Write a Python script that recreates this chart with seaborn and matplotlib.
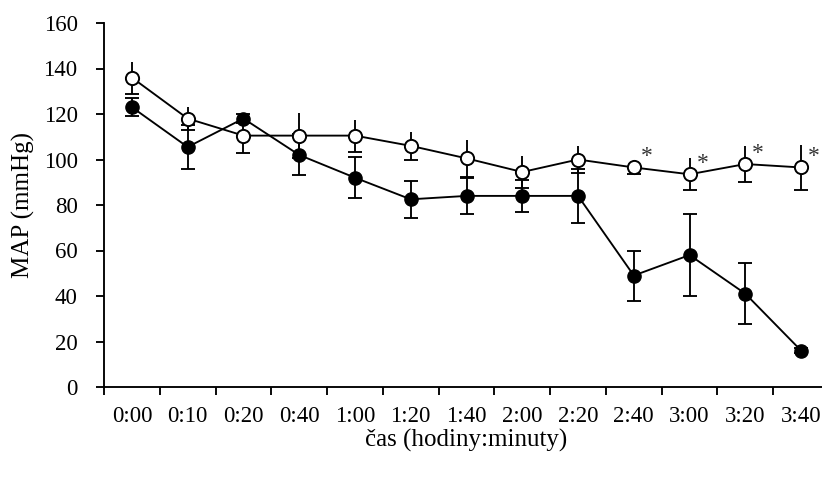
import numpy as np
import pandas as pd
import matplotlib
matplotlib.use("Agg")
import matplotlib.pyplot as plt
import seaborn as sns
from matplotlib.ticker import FixedLocator, NullFormatter

# Time points (hours:minutes)
categories = ["0:00", "0:10", "0:20", "0:40", "1:00", "1:20", "1:40",
              "2:00", "2:20", "2:40", "3:00", "3:20", "3:40"]

# Mean arterial pressure, open-circle group
open_mean = [136, 118, 110.5, 110.5, 110.5, 106, 100.5, 94.5, 100, 96.5, 93.5, 98, 96.5]
open_err = [7, 5, 7.5, 10, 7, 6, 8, 7, 6, 3, 7, 8, 10]

# Mean arterial pressure, filled-circle group
filled_mean = [123, 105.5, 118, 102, 92, 82.5, 84, 84, 84, 49, 58, 41, 16]
filled_err = [4, 9.5, 2, 9, 9, 8, 8, 7, 12, 11, 18, 13.5, 1]

# Significance marks on the open-circle group
star_labels = ["2:40", "3:00", "3:20", "3:40"]

y_ticks = [0, 20, 40, 60, 80, 100, 120, 140, 160]

sns.set_theme(style="ticks")
plt.rcParams["font.family"] = ["Liberation Serif", "DejaVu Serif"]

pos = np.arange(len(categories))
df = pd.DataFrame({"pos": pos, "cas": categories,
                   "open": open_mean, "open_err": open_err,
                   "filled": filled_mean, "filled_err": filled_err})

fig = plt.figure(figsize=(8.22, 4.82), dpi=100)
ax = fig.add_axes([104 / 822, 95 / 482, 725 / 822, 364 / 482])

lw = 1.35
zeros = np.zeros(len(categories))

# filled group: symmetric error bars with caps on both ends
ax.errorbar(df["pos"], df["filled"], yerr=df["filled_err"], fmt="none",
            ecolor="black", elinewidth=lw, capsize=5, capthick=lw, zorder=2)
sns.lineplot(data=df, x="pos", y="filled", ax=ax, color="black", linewidth=lw,
             marker="o", markersize=9.5, markerfacecolor="black",
             markeredgecolor="black", markeredgewidth=1.0, zorder=3)

# open group: capped lower bars, plain upper bars
ax.errorbar(df["pos"], df["open"], yerr=[df["open_err"], zeros], fmt="none",
            ecolor="black", elinewidth=lw, capsize=5, capthick=lw, zorder=4)
ax.errorbar(df["pos"], df["open"], yerr=[zeros, df["open_err"]], fmt="none",
            ecolor="black", elinewidth=lw, capsize=0, zorder=4)
sns.lineplot(data=df, x="pos", y="open", ax=ax, color="black", linewidth=lw,
             marker="o", markersize=9.5, markerfacecolor="white",
             markeredgecolor="black", markeredgewidth=1.4, zorder=5)

for lab in star_labels:
    i = categories.index(lab)
    ax.annotate("*", (pos[i], open_mean[i]), xytext=(5, 0),
                textcoords="offset points", fontsize=17, ha="left",
                va="bottom", color="#333333", zorder=6)

ax.set_xlim(-0.5, len(categories) - 0.5)
ax.set_ylim(0, 160)
ax.set_yticks(y_ticks)
ax.set_yticklabels([str(v) for v in y_ticks])

# labels centred on categories, tick marks on category boundaries
ax.set_xticks(pos)
ax.set_xticklabels(categories)
ax.xaxis.set_minor_locator(FixedLocator(np.arange(len(categories) + 1) - 0.5))
ax.xaxis.set_minor_formatter(NullFormatter())
ax.tick_params(axis="x", which="major", length=0, pad=14, labelsize=16.5, colors="black")
ax.tick_params(axis="x", which="minor", length=6, width=lw, direction="out", color="black")
ax.tick_params(axis="y", length=6, width=lw, direction="out", pad=13, labelsize=16.5, colors="black")

sns.despine(ax=ax)
for s in ["left", "bottom"]:
    ax.spines[s].set_color("black")
    ax.spines[s].set_linewidth(lw)

ax.set_xlabel("čas (hodiny:minuty)", fontsize=18, color="black")
ax.xaxis.set_label_coords(0.5, -0.115)
ax.set_ylabel("MAP (mmHg)", fontsize=18, color="black")
ax.yaxis.set_label_coords(-0.095, 0.5)

fig.savefig("out.png", dpi=100, facecolor="white")
